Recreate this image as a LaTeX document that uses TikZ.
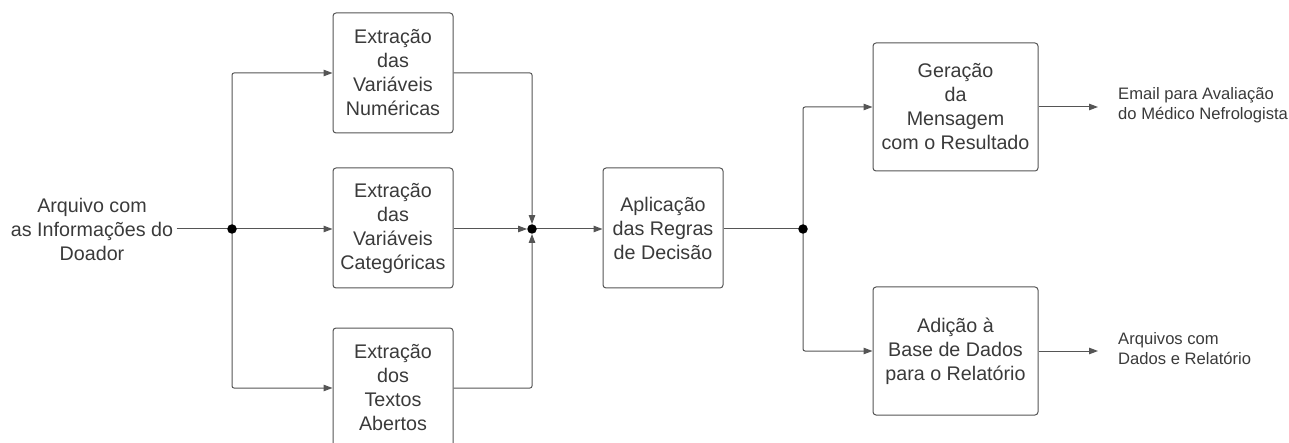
\documentclass[tikz,border=0pt]{standalone}
\usepackage{fontspec}
\setmainfont{Liberation Sans}
\usetikzlibrary{arrows.meta,backgrounds}
\definecolor{txt}{HTML}{3A3A3A}
\definecolor{ln}{HTML}{555555}
\begin{document}
\begin{tikzpicture}[x=1pt,y=-1pt,
 box/.style={draw=ln, line width=1pt, rounded corners=3pt, align=center, text=txt, font=\fontsize{19.7}{24}\selectfont, inner sep=0pt},
 sq/.style={box, minimum width=120pt, minimum height=120pt},
 wide/.style={box, minimum width=165pt, minimum height=128pt},
 lbl/.style={text=txt, align=center, font=\fontsize{19.7}{24}\selectfont},
 outtext/.style={text=txt, align=left, font=\fontsize{16.6}{20}\selectfont, anchor=west, inner sep=0pt},
 conn/.style={draw=ln, line width=1pt, rounded corners=2pt},
 arr/.style={conn, -{Triangle[length=9pt,width=6.5pt]}},
 dot/.style={circle, fill=black, inner sep=0pt, minimum size=9.5pt}
]
\useasboundingbox (0,0) rectangle (1289,443);

\node[lbl] (src) at (92,229) {Arquivo com\\as Informações do\\Doador};
\node[dot] (j1) at (232,229) {};
\node[sq] (num) at (393,73) {Extração\\das\\Variáveis\\Numéricas};
\node[sq] (cat) at (393,228) {Extração\\das\\Variáveis\\Categóricas};
\node[sq] (txt) at (393,388) {Extração\\dos\\Textos\\Abertos};
\node[dot] (j2) at (532,229) {};
\node[sq] (apl) at (663,228) {Aplicação\\das Regras\\de Decisão};
\node[dot] (j3) at (803,229) {};
\node[wide] (ger) at (955.5,107) {Geração\\da\\Mensagem\\com o Resultado};
\node[wide] (adi) at (955.5,351) {Adição à\\Base de Dados\\para o Relatório};
\node[outtext] (email) at (1118,105) {Email para Avaliação\\do Médico Nefrologista};
\node[outtext] (arq) at (1118,349) {Arquivos com\\Dados e Relatório};

\begin{scope}[on background layer]
\draw[conn] (src.east) -- (j1.center);
\draw[arr] (j1.center) |- (num.west);
\draw[arr] (j1.center) -- (j1.center -| cat.west);
\draw[arr] (j1.center) |- (txt.west);
\draw[arr] (num.east) -| (j2.north);
\draw[arr] (cat.east |- j2.center) -- (j2.west);
\draw[arr] (txt.east) -| (j2.south);
\draw[arr] (j2.center) -- (j2.center -| apl.west);
\draw[conn] (apl.east |- j3.center) -- (j3.center);
\draw[arr] (j3.center) |- (ger.west);
\draw[arr] (j3.center) |- (adi.west);
\draw[arr] (ger.east) -- ([xshift=-20pt]ger.east -| email.west);
\draw[arr] (adi.east) -- ([xshift=-20pt]adi.east -| arq.west);
\end{scope}
\end{tikzpicture}
\end{document}
